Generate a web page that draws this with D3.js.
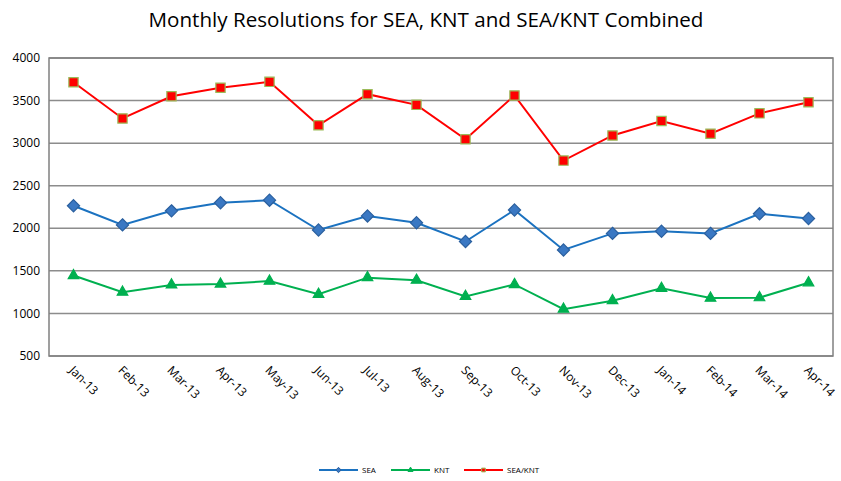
<!DOCTYPE html>
<html lang="en">
<head>
<meta charset="UTF-8">
<title>Monthly Resolutions</title>
<script src="https://d3js.org/d3.v7.min.js"></script>
<style>
  body { margin: 0; background: #fff; }
  text { font-family: "Open Sans", "Noto Sans", sans-serif; fill: #000; }
</style>
</head>
<body>
<svg id="chart" width="841" height="481"></svg>
<script>
const months = ["Jan-13", "Feb-13", "Mar-13", "Apr-13", "May-13", "Jun-13", "Jul-13", "Aug-13",
    "Sep-13", "Oct-13", "Nov-13", "Dec-13", "Jan-14", "Feb-14", "Mar-14", "Apr-14"];
const sea = [2265, 2040, 2205, 2300, 2330, 1980, 2145, 2065, 1845, 2215, 1745, 1940, 1965, 1940, 2170, 2115];
const knt = [1445, 1250, 1335, 1345, 1380, 1225, 1420, 1390, 1200, 1340, 1050, 1150, 1295, 1180, 1185, 1360];
const combined = [3715, 3290, 3550, 3650, 3720, 3210, 3575, 3450, 3045, 3560, 2795, 3090, 3260, 3110, 3350, 3480];
const yTicks = [500, 1000, 1500, 2000, 2500, 3000, 3500, 4000];

const svg = d3.select("#chart");
const margin = { top: 58, right: 8, bottom: 125, left: 49 };
const width = 841 - margin.left - margin.right;
const height = 481 - margin.top - margin.bottom;

const x = d3.scaleBand().domain(months).range([0, width]);
const y = d3.scaleLinear().domain([500, 4000]).range([height, 0]);

svg.append("text")
    .attr("x", 426).attr("y", 27)
    .attr("text-anchor", "middle")
    .style("font-size", "20.6px")
    .text("Monthly Resolutions for SEA, KNT and SEA/KNT Combined");

const g = svg.append("g").attr("transform", `translate(${margin.left},${margin.top})`);

// gridlines
g.selectAll("line.grid")
    .data(yTicks)
    .join("line")
    .attr("class", "grid")
    .attr("x1", 0).attr("x2", width)
    .attr("y1", d => y(d)).attr("y2", d => y(d))
    .attr("stroke", "#8c8c8c").attr("stroke-width", 1.5);

g.append("rect")
    .attr("width", width).attr("height", height)
    .attr("fill", "none").attr("stroke", "#808080").attr("stroke-width", 1.5);

// y axis labels
g.selectAll("text.ytick")
    .data(yTicks)
    .join("text")
    .attr("class", "ytick")
    .attr("x", -9).attr("y", d => y(d)).attr("dy", "0.35em")
    .attr("text-anchor", "end")
    .style("font-size", "12px")
    .text(d => d);

// x axis labels
g.selectAll("text.xtick")
    .data(months)
    .join("text")
    .attr("class", "xtick")
    .attr("transform", d => `translate(${x(d) + x.bandwidth() / 2 - 5},${height + 15}) rotate(45)`)
    .style("font-size", "12px")
    .text(d => d);

const series = [
    { name: "SEA", values: sea, color: "#1b72c0", fill: "#3a78c3", stroke: "#2a5f9e", symbol: d3.symbolDiamond2, size: 95 },
    { name: "KNT", values: knt, color: "#00b050", fill: "#00b050", stroke: "#00b050", symbol: d3.symbolTriangle2, size: 80 },
    { name: "SEA/KNT", values: combined, color: "#ff0000", fill: "#ff0000", stroke: "#9bbb59", symbol: d3.symbolSquare2, size: 110 }
];

const line = d3.line()
    .x((d, i) => x(months[i]) + x.bandwidth() / 2)
    .y(d => y(d));

series.forEach(s => {
    g.append("path")
        .datum(s.values)
        .attr("d", line)
        .attr("fill", "none")
        .attr("stroke", s.color)
        .attr("stroke-width", 2);

    g.selectAll(null)
        .data(s.values)
        .join("path")
        .attr("transform", (d, i) => `translate(${x(months[i]) + x.bandwidth() / 2},${y(d)})`)
        .attr("d", d3.symbol().type(s.symbol).size(s.size))
        .attr("fill", s.fill)
        .attr("stroke", s.stroke)
        .attr("stroke-width", 1.2);
});

// legend
const legendX = [319, 391, 464];
const legend = svg.append("g").attr("transform", "translate(0,470)");
series.forEach((s, i) => {
    const lg = legend.append("g").attr("transform", `translate(${legendX[i]},0)`);
    lg.append("line")
        .attr("x1", 0).attr("x2", 39).attr("y1", 0).attr("y2", 0)
        .attr("stroke", s.color).attr("stroke-width", 2);
    lg.append("path")
        .attr("transform", "translate(19.5,0)")
        .attr("d", d3.symbol().type(s.symbol).size(18))
        .attr("fill", s.fill).attr("stroke", s.stroke).attr("stroke-width", 1);
    lg.append("text")
        .attr("x", 43).attr("y", 0).attr("dy", "0.35em")
        .style("font-size", "8px")
        .text(s.name);
});
</script>
</body>
</html>
